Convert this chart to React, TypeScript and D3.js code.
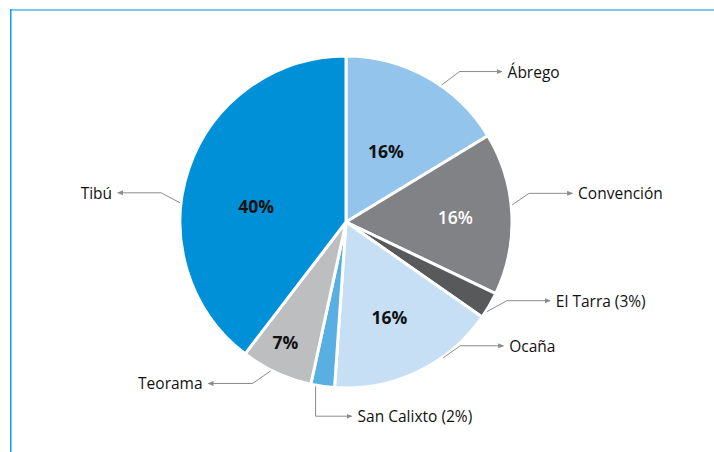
import React from 'react';
import * as d3 from 'd3';

// municipios y participación (%)
const names = ['Ábrego', 'Convención', 'El Tarra', 'Ocaña', 'San Calixto', 'Teorama', 'Tibú'];
const shares = [16.3, 15.8, 2.6, 16.4, 2.3, 7.0, 39.6];
const colors = ['#93c5ec', '#808285', '#58595b', '#c6dff4', '#59afe2', '#bcbec0', '#0090d7'];

// layout of labels (not data): [radius fraction, angle offset deg, text colour]
const insideLabel: Record<string, [number, number, string]> = {
  'Ábrego': [0.49, 0, '#111'],
  'Convención': [0.66, 0, '#fff'],
  'Ocaña': [0.63, 1, '#111'],
  'Teorama': [0.81, 2, '#111'],
  'Tibú': [0.55, -8.5, '#111'],
};
// [position along the slice 0..1, elbow dx, elbow dy, horizontal run]
const callout: Record<string, [number, number, number, number]> = {
  'Ábrego': [0.595, 18, -13.5, 42],
  'Convención': [0.447, 17, -11.5, 43],
  'El Tarra': [0.74, 20, -11, 43],
  'Ocaña': [0.33, 17, -12, 43],
  'San Calixto': [0.79, 0, 30, 36],
  'Teorama': [0.58, -18, 12.5, -44],
  'Tibú': [0.415, -19, -10, -43],
};

const W = 714;
const H = 452;
const cx = 346;
const cy = 222;
const R = 166;
const font = '"Open Sans", "Noto Sans", sans-serif';
const lineColor = '#8c8c8c';

export default function App() {
  const data = names.map((n, i) => ({ name: n, value: shares[i], color: colors[i] }));
  const pie = d3.pie<any>().sort(null).value(d => d.value).startAngle(0).endAngle(2 * Math.PI);
  const arcs = pie(data);
  const arc = d3.arc<any>().innerRadius(0).outerRadius(R);
  const pt = (a: number, r: number) => [Math.sin(a) * r, -Math.cos(a) * r];

  return (
    <svg width={W} height={H} style={{ position: 'absolute', left: 0, top: 0, background: '#fff' }}>
      <defs>
        <marker id="arr" viewBox="0 0 6 6" refX="5" refY="3" markerWidth="6" markerHeight="6" orient="auto">
          <path d="M0,0.5 L6,3 L0,5.5 Z" fill={lineColor} />
        </marker>
      </defs>
      {/* frame */}
      <line x1={10} x2={W} y1={10} y2={10} stroke="#7cc8ee" strokeWidth={2} />
      <line x1={10.75} x2={10.75} y1={9} y2={H} stroke="#0a9fe4" strokeWidth={1.5} />

      <g transform={`translate(${cx},${cy})`}>
        {arcs.map(a => (
          <path key={a.data.name} d={arc(a) as string} fill={a.data.color} stroke="#fff" strokeWidth={3} strokeLinejoin="miter" />
        ))}
        {arcs.filter(a => insideLabel[a.data.name]).map(a => {
          const [rf, off, col] = insideLabel[a.data.name];
          const ang = (a.startAngle + a.endAngle) / 2 + (off * Math.PI) / 180;
          const [x, y] = pt(ang, R * rf);
          return (
            <text key={a.data.name} x={x} y={y} textAnchor="middle" dominantBaseline="central"
              fontFamily={font} fontWeight={col === '#fff' ? 600 : 700} fontSize={17.5} fill={col}>
              {Math.round(a.data.value)}%
            </text>
          );
        })}
        {arcs.map(a => {
          const [t, ex, ey, run] = callout[a.data.name];
          const ang = a.startAngle + (a.endAngle - a.startAngle) * t;
          const [sx, sy] = pt(ang, R + 1);
          const mx = sx + ex;
          const my = sy + ey;
          const endX = mx + run;
          const label = a.data.value < 5 ? `${a.data.name} (${Math.round(a.data.value)}%)` : a.data.name;
          return (
            <g key={a.data.name}>
              <path d={`M${sx},${sy}L${mx},${my}L${endX},${my}`} fill="none" stroke={lineColor} strokeWidth={1} markerEnd="url(#arr)" />
              <text x={endX + (run > 0 ? 6 : -6)} y={my} textAnchor={run > 0 ? 'start' : 'end'} dominantBaseline="central"
                fontFamily={font} fontSize={15.5} fill="#111">
                {label}
              </text>
            </g>
          );
        })}
      </g>
    </svg>
  );
}
